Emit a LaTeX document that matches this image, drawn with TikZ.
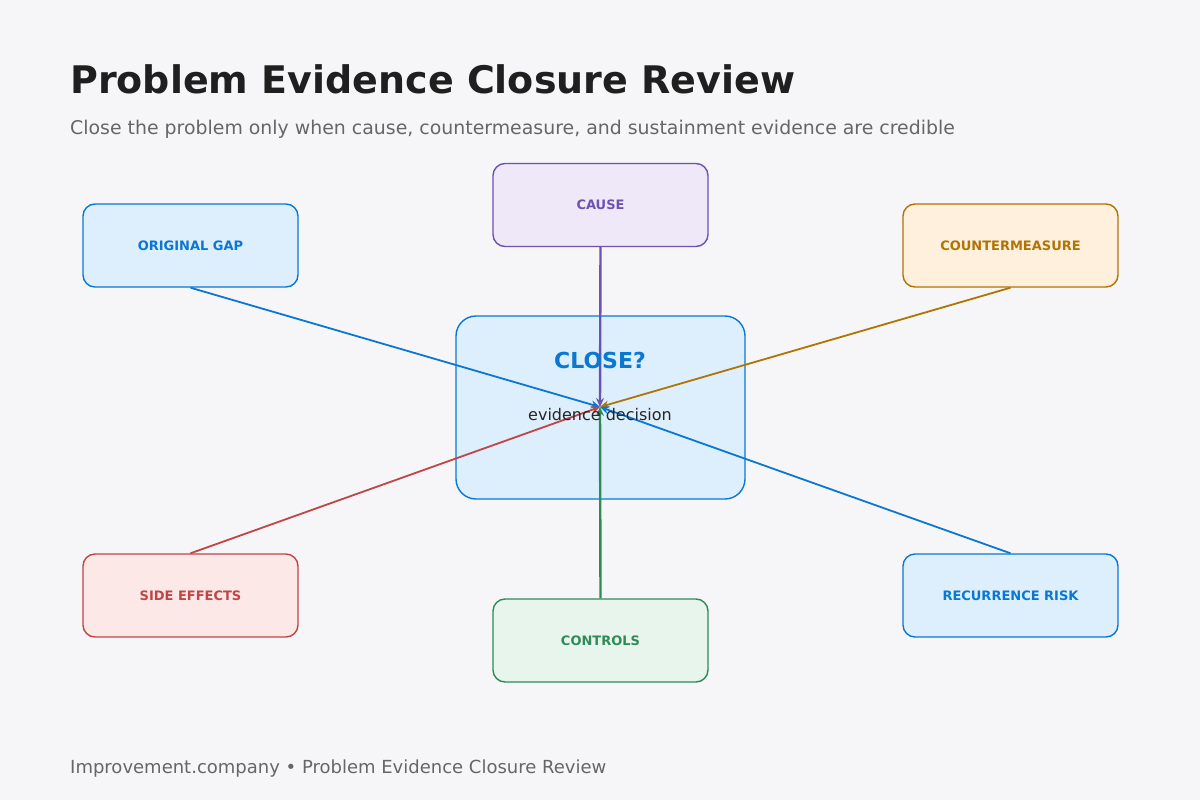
\documentclass[tikz,border=0pt]{standalone}
\usepackage{fontspec}
\setmainfont{DejaVu Sans}
\usetikzlibrary{arrows.meta}
\definecolor{bg}{HTML}{F6F6F8}
\definecolor{cblue}{HTML}{0A78D2}
\definecolor{fblue}{HTML}{DDEEFD}
\definecolor{cpurp}{HTML}{6E52B0}
\definecolor{fpurp}{HTML}{EEE8F9}
\definecolor{corng}{HTML}{B07405}
\definecolor{forng}{HTML}{FEF0DC}
\definecolor{cred}{HTML}{C04545}
\definecolor{fred}{HTML}{FDE8E8}
\definecolor{cgrn}{HTML}{2E8B57}
\definecolor{fgrn}{HTML}{E7F5EC}
\begin{document}
\begin{tikzpicture}[x=1pt,y=-1pt,
  box/.style={draw=#1,line width=1.4pt,rounded corners=12pt,minimum width=215pt,minimum height=83pt,inner sep=0pt,font=\fontsize{13}{15}\selectfont\bfseries,text=#1},
  conn/.style={draw=#1,line width=2pt,-{Stealth[length=9pt,width=8pt]}}]
\fill[bg] (0,0) rectangle (1200,800);
\useasboundingbox (0,0) rectangle (1200,800);
\node[anchor=base west,inner sep=0pt,font=\fontsize{38}{44}\selectfont\bfseries,text=black!88] (title) at (70,94) {Problem Evidence Closure Review};
\node[anchor=base west,inner sep=0pt,font=\fontsize{18.9}{22}\selectfont,text=black!60] (sub) at (70,134) {Close the problem only when cause, countermeasure, and sustainment evidence are credible};
\node[anchor=base west,inner sep=0pt,font=\fontsize{18}{22}\selectfont,text=black!60] (foot) at (70,773) {Improvement.company • Problem Evidence Closure Review};
\node[draw=cblue,fill=fblue,line width=1.4pt,rounded corners=20pt,minimum width=289pt,minimum height=183pt] (c) at (600.5,407.5) {};
\coordinate (hub) at (600,407);
\node[box=cblue,fill=fblue] (og) at (190.5,245.5) {ORIGINAL GAP};
\node[box=cpurp,fill=fpurp] (ca) at (600.5,205) {CAUSE};
\node[box=corng,fill=forng] (cm) at (1010.5,245.5) {COUNTERMEASURE};
\node[box=cred,fill=fred] (se) at (190.5,595.5) {SIDE EFFECTS};
\node[box=cgrn,fill=fgrn] (co) at (600.5,640.5) {CONTROLS};
\node[box=cblue,fill=fblue] (rr) at (1010.5,595.5) {RECURRENCE RISK};
\draw[conn=cblue,line width=1.8pt] (og.south) -- (hub);
\draw[conn=cpurp,line width=2.4pt] (ca.south) -- (hub);
\draw[conn=corng,line width=1.8pt] (cm.south) -- (hub);
\draw[conn=cred,line width=1.8pt] (se.north) -- (hub);
\draw[conn=cgrn,line width=2.4pt] (co.north) -- (hub);
\draw[conn=cblue,line width=1.8pt] (rr.north) -- (hub);
\node[font=\fontsize{22}{26}\selectfont\bfseries,text=cblue] (cl) at (600,360) {CLOSE?};
\node[font=\fontsize{16}{19}\selectfont,text=black!85] (ed) at (600,415) {evidence decision};
\end{tikzpicture}
\end{document}
